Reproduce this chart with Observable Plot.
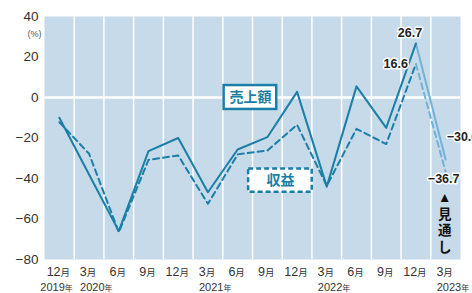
<!DOCTYPE html>
<html><head><meta charset="utf-8">
<script src="https://cdn.jsdelivr.net/npm/d3@7"></script>
<script src="https://cdn.jsdelivr.net/npm/@observablehq/plot@0.6"></script>
<style>
body{margin:0;background:#fff;}
svg{display:block;}
</style>
</head><body><div id="chart"></div>
<script>
const months = ["12月","3月","6月","9月","12月","3月","6月","9月","12月","3月","6月","9月","12月","3月"];
const years = [{i:0,label:"2019年"},{i:1,label:"2020年"},{i:5,label:"2021年"},{i:9,label:"2022年"},{i:13,label:"2023年"}];
const sales = [-10,-38,-66,-26.5,-20,-46.8,-25.7,-19.6,2.8,-44,5.5,-15,26.7,-30.6];
const profit = [-12.2,-27.8,-66.5,-30.8,-28.6,-52.5,-28.1,-26.2,-13.5,-43.6,-15.5,-23,16.6,-36.7];
const yTicks = [40,20,0,-20,-40,-60,-80];
const forecastStart = 12;
const seriesBoxes = [
  {label:"売上額", x:6.43, y:0, w:1.77, h:11.8, dash:null},
  {label:"収益", x:7.44, y:-41, w:2.14, h:11.5, dash:"5,3"}
];
const valueLabels = [
  {i:12, v:26.7, text:"26.7", anchor:"middle", dx:-6, dy:-10},
  {i:12, v:16.6, text:"16.6", anchor:"end", dx:-8, dy:0},
  {i:13, v:-30.6, text:"−30.6", anchor:"start", dx:1, dy:-22},
  {i:13, v:-36.7, text:"−36.7", anchor:"middle", dx:-2, dy:7}
];

const teal = "#1a7fa6";
const light = "#72b2d6";
const font = "'Liberation Sans', 'Noto Sans CJK JP', sans-serif";

const pts = a => a.map((v,i)=>({i,v}));
const S = pts(sales), P = pts(profit);

const chart = Plot.plot({
  width:472, height:293,
  marginLeft:44, marginRight:12, marginTop:16, marginBottom:34,
  style:{fontFamily:font, background:"#fff", overflow:"visible"},
  x:{domain:[-0.5,13.5], axis:null},
  y:{domain:[-80,40], axis:null},
  marks:[
    Plot.frame({fill:"#c6dae9", stroke:null}),
    Plot.ruleX(d3.range(0.5,13,1), {stroke:"white", strokeWidth:1.5}),
    Plot.ruleY([0], {stroke:"white", strokeWidth:2.5}),
    Plot.axisY(yTicks, {tickSize:0, tickPadding:6, fontSize:13.5, color:"#333", tickFormat:d3.format("")}),
    Plot.text(["(%)"], {frameAnchor:"top-left", dx:-17, dy:14, fontSize:9, fill:"#555"}),
    // forecast segments
    Plot.line(P.slice(forecastStart), {x:"i", y:"v", stroke:light, strokeWidth:2, strokeDasharray:"6,4"}),
    Plot.line(S.slice(forecastStart), {x:"i", y:"v", stroke:light, strokeWidth:2}),
    // actual
    Plot.line(P.slice(0,forecastStart+1), {x:"i", y:"v", stroke:teal, strokeWidth:2, strokeDasharray:"6,4"}),
    Plot.line(S.slice(0,forecastStart+1), {x:"i", y:"v", stroke:teal, strokeWidth:2}),
    // series label boxes
    Plot.rect(seriesBoxes.filter(d=>!d.dash), {x1:d=>d.x-d.w/2, x2:d=>d.x+d.w/2, y1:d=>d.y-d.h/2, y2:d=>d.y+d.h/2, fill:"white", stroke:teal, strokeWidth:2.5}),
    Plot.rect(seriesBoxes.filter(d=>d.dash), {x1:d=>d.x-d.w/2, x2:d=>d.x+d.w/2, y1:d=>d.y-d.h/2, y2:d=>d.y+d.h/2, fill:"white", stroke:teal, strokeWidth:2.5, strokeDasharray:"5,3"}),
    Plot.text(seriesBoxes, {x:"x", y:"y", text:"label", fill:teal, fontWeight:"bold", fontSize:14}),
    // value labels
    ...valueLabels.map(d => Plot.text([d], {x:"i", y:"v", text:"text", textAnchor:d.anchor, dx:d.dx, dy:d.dy, fontSize:12.5, fontWeight:"bold", fill:"#222", stroke:"white", strokeWidth:3, letterSpacing:-0.4})),
    Plot.text(["▲\n見\n通\nし"], {x:13, y:-46, dx:-1, lineAnchor:"top", fontSize:13.5, lineHeight:1.22, fontWeight:"bold", fill:"#111"}),
    // x labels
    Plot.text(months, {x:(d,i)=>i, y:-80, dy:12, dx:-1, fontSize:12.5, fill:"#333", className:"xlab"}),
    Plot.text(years.filter(d=>d.i===0), {x:"i", y:-80, dy:28, text:"label", textAnchor:"start", dx:-19, fontSize:11, fill:"#333", className:"ylab"}),
    Plot.text(years.filter(d=>d.i!==0), {x:"i", y:-80, dy:28, text:"label", textAnchor:"start", dx:-9, fontSize:11, fill:"#333", className:"ylab"})
  ]
});
document.getElementById("chart").append(chart);

// shrink the unit characters (月, 年)
function splitUnit(sel, size){
  chart.querySelectorAll(sel+" text").forEach(t=>{
    const s=t.textContent; const num=s.slice(0,-1), u=s.slice(-1);
    t.textContent="";
    const a=document.createElementNS("http://www.w3.org/2000/svg","tspan"); a.textContent=num;
    const b=document.createElementNS("http://www.w3.org/2000/svg","tspan"); b.textContent=u; b.setAttribute("font-size",size);
    t.append(a,b);
  });
}
splitUnit("g.xlab","9.5");
splitUnit("g.ylab","8");
</script>
</body></html>
